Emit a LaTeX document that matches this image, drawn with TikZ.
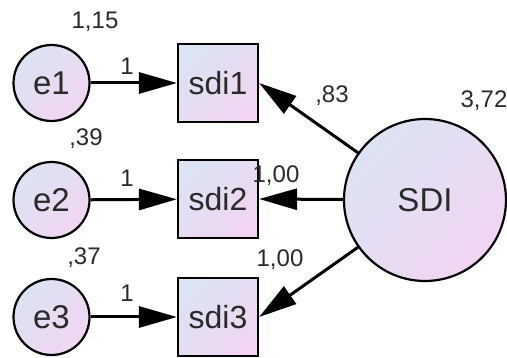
\documentclass[tikz,border=0pt]{standalone}
\usepackage{fontspec}
\setmainfont{Liberation Sans}
\usetikzlibrary{arrows.meta,shapes.geometric}
\definecolor{fillA}{HTML}{DCE3F3}
\definecolor{fillB}{HTML}{F1D5F2}
\definecolor{txt}{HTML}{2A2A2A}
\tikzset{
  x=1pt,y=1pt,
  grad/.style={top color=fillA,bottom color=fillB,shading angle=45},
  errc/.style={circle,draw=black,line width=2.2pt,grad,minimum size=76pt,inner sep=0pt,
    font=\fontsize{33}{36}\selectfont,text=txt},
  latc/.style={circle,draw=black,line width=2.2pt,grad,minimum size=162pt,inner sep=0pt,
    font=\fontsize{33}{36}\selectfont,text=txt},
  obsb/.style={rectangle,draw=black,line width=2.2pt,grad,minimum width=80pt,minimum height=78pt,inner sep=0pt,
    font=\fontsize{32}{36}\selectfont,text=txt},
  lbl/.style={font=\fontsize{24}{26}\selectfont,text=txt,inner sep=0pt},
  arr/.style={line width=3pt,-{Triangle[length=38pt,width=21pt]}},
}
\begin{document}
\begin{tikzpicture}
\useasboundingbox (0,0) rectangle (507,-358);
\node[errc] (e1) at (51.5,-83) {e1};
\node[errc] (e2) at (51.5,-200) {e2};
\node[errc] (e3) at (51.5,-317) {e3};
\node[obsb] (s1) at (218,-83) {sdi1};
\node[obsb] (s2) at (218,-199) {sdi2};
\node[obsb] (s3) at (218,-317) {sdi3};
\node[latc] (sdi) at (425,-200) {SDI};
\draw[arr] (e1) -- (s1);
\draw[arr] (e2) -- (s2);
\draw[arr] (e3) -- (s3);
\draw[arr] (sdi) -- (s1.east);
\draw[arr] (sdi) -- (s2.east);
\draw[arr] (sdi) -- (s3.east);
\node[lbl] (v1) at (95,-22) {1,15};
\node[lbl] (v2) at (86,-139) {,39};
\node[lbl] (v3) at (84,-258) {,37};
\node[lbl] (w1) at (127,-66) {1};
\node[lbl] (w2) at (127,-178) {1};
\node[lbl] (w3) at (127,-293) {1};
\node[lbl] (l1) at (332,-96) {,83};
\node[lbl] (l2) at (276,-176) {1,00};
\node[lbl] (l3) at (280,-260) {1,00};
\node[lbl] (vs) at (484,-101) {3,72};
\end{tikzpicture}
\end{document}
